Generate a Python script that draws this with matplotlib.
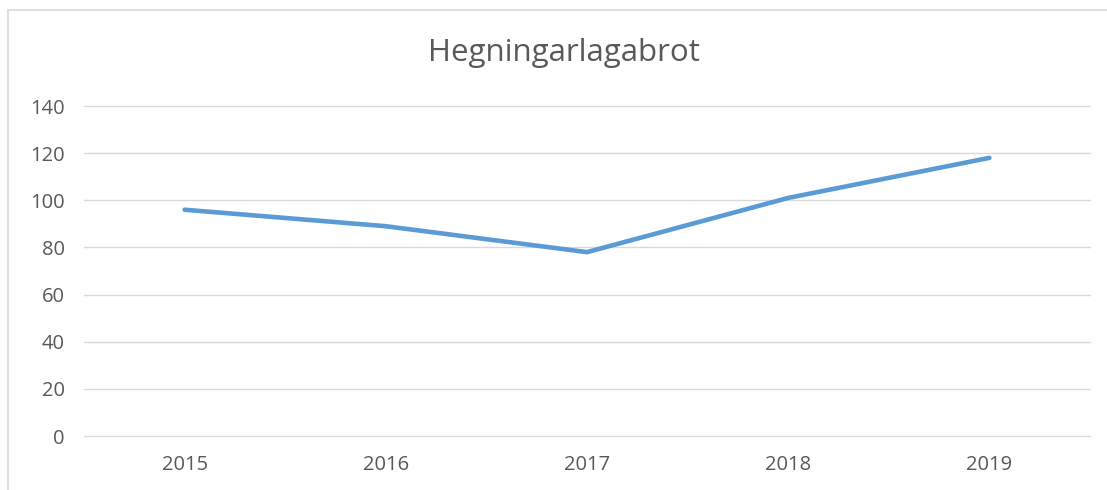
import matplotlib
matplotlib.use("Agg")
import matplotlib.pyplot as plt
from matplotlib.lines import Line2D

years = ["2015", "2016", "2017", "2018", "2019"]
values = [96, 89, 78, 101, 118]
yticks = [0, 20, 40, 60, 80, 100, 120, 140]
title = "Hegningarlagabrot"

plt.rcParams['font.family'] = ['Open Sans', 'DejaVu Sans']
text_color = "#595959"
grid_color = "#D9D9D9"
line_color = "#5B9BD5"

fig = plt.figure(figsize=(11.07, 4.90), dpi=100)
ax = fig.add_axes([84/1107, 1-436/490, (1090-84)/1107, (436-106)/490])

x = list(range(len(years)))
ax.plot(x, values, color=line_color, linewidth=3.3, solid_capstyle="round", solid_joinstyle="round", zorder=3)

ax.set_xlim(-0.5, len(years)-0.5)
ax.set_ylim(0, 140)
ax.set_yticks(yticks)
ax.set_xticks(x)
ax.set_xticklabels(years)
ax.yaxis.grid(True, color=grid_color, linewidth=1.0)
for gl in ax.get_ygridlines():
    gl.set_clip_on(False)
ax.set_axisbelow(True)
for s in ax.spines.values():
    s.set_visible(False)
ax.tick_params(axis="both", length=0, colors=text_color, labelsize=14.5)
ax.tick_params(axis="y", pad=14)
ax.tick_params(axis="x", pad=14)

fig.text(564/1107, 1-53/490, title, ha="center", va="center", fontsize=22.5, color=text_color)

# chart frame
fig.add_artist(Line2D([8/1107, 8/1107], [0, 1-10/490], transform=fig.transFigure, color=grid_color, linewidth=1.2))
fig.add_artist(Line2D([8/1107, 1], [1-10/490, 1-10/490], transform=fig.transFigure, color=grid_color, linewidth=1.2))

fig.savefig("out.png", dpi=100)
